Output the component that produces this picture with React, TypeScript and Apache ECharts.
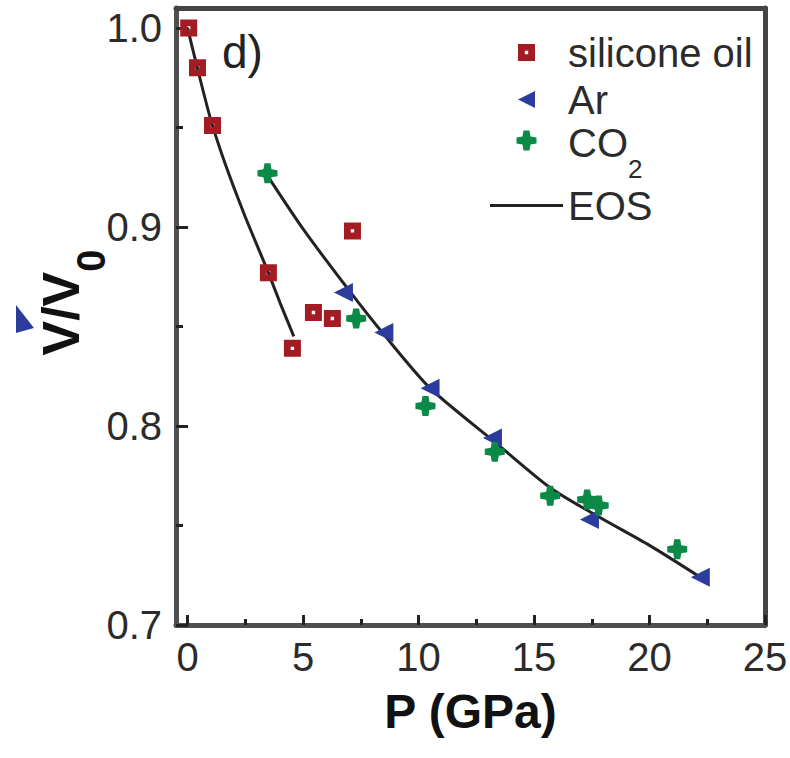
import React, { useEffect, useRef } from "react";
import * as echarts from "echarts";

const FONT = "'Liberation Sans', Arial, Helvetica, sans-serif";

// Data
const siliconeP = [0.05, 0.43, 1.08, 3.5, 4.54, 5.45, 6.27, 7.14];
const siliconeV = [1.0, 0.98, 0.951, 0.877, 0.839, 0.857, 0.854, 0.898];

const arP = [6.75, 8.5, 10.5, 13.2, 17.4, 22.2];
const arV = [0.867, 0.847, 0.819, 0.794, 0.753, 0.724];

const co2P = [3.46, 7.3, 10.3, 13.3, 15.7, 17.3, 17.8, 21.2];
const co2V = [0.927, 0.854, 0.81, 0.787, 0.765, 0.763, 0.76, 0.738];

const eos1P = [0, 0.4, 1.0, 1.5, 2.0, 2.5, 3.0, 3.5, 4.0, 4.6];
const eos1V = [1.0, 0.981, 0.954, 0.936, 0.92, 0.905, 0.891, 0.877, 0.862, 0.845];

const eos2P = [3.5, 5, 7, 8.5, 10.5, 13.4, 15.7, 17.7, 20, 22.2];
const eos2V = [0.925, 0.899, 0.868, 0.846, 0.819, 0.791, 0.769, 0.755, 0.74, 0.724];

const xTicks = [0, 5, 10, 15, 20, 25];
const xMinor = [2.5, 7.5, 12.5, 17.5, 22.5];
const yTicks = [0.7, 0.8, 0.9, 1.0];
const yMinor = [0.75, 0.85, 0.95];

const RED = "#a31c24";
const BLUE = "#2b3c9c";
const GREEN = "#0a8a46";
const AXIS = "#4f4f4f";
const TICK = "#222";
const TEXT = "#2b2b2b";

const SQUARE = "path://M0,0L10,0L10,10L0,10Z M4,4L4,6L6,6L6,4Z";
const LEFT_TRI = "path://M0,5L10,0L10,10Z";
const CROSS = "path://M3.5,0L6.5,0L7,3L10,3.5L10,6.5L7,7L6.5,10L3.5,10L3,7L0,6.5L0,3.5L3,3Z";
const LINE_ICON = "path://M0,0L73,0L73,3L0,3Z";

const zip = (a: number[], b: number[]) => a.map((v, i) => [v, b[i]]);

export default function App() {
  const ref = useRef<HTMLDivElement>(null);

  useEffect(() => {
    if (!ref.current) return;
    const chart = echarts.init(ref.current, null, { renderer: "svg" });

    const hiddenAxisBits = {
      axisLabel: { show: false },
      splitLine: { show: false },
    };

    const option: any = {
      animation: false,
      backgroundColor: "#fff",
      title: {
        text: "d)",
        left: 222,
        top: 29,
        padding: 0,
        textStyle: { fontSize: 46, fontWeight: "normal", color: "#222", fontFamily: FONT },
      },
      grid: {
        left: 176,
        right: 25,
        top: 8,
        bottom: 133,
        containLabel: false,
        outerBoundsMode: "none",
      },
      legend: [
        {
          data: ["silicone oil", "Ar"],
          orient: "vertical",
          left: 518,
          top: 29,
          padding: 0,
          itemGap: 0,
          itemWidth: 73,
          itemHeight: 17,
          selectedMode: false,
          textStyle: { fontSize: 40, lineHeight: 47, color: TEXT, fontFamily: FONT },
        },
        {
          data: [
            { name: "CO2", textStyle: { padding: [12, 0, 0, 0] } },
            { name: "EOS", icon: LINE_ICON, itemStyle: { color: "#222" } },
          ],
          orient: "vertical",
          left: 490,
          top: 111,
          padding: 0,
          itemGap: 0,
          itemWidth: 73,
          itemHeight: 20,
          selectedMode: false,
          formatter: (n: string) => (n === "CO2" ? "{a|CO}{b|2}" : n),
          textStyle: {
            fontSize: 40,
            lineHeight: 47,
            color: TEXT,
            fontFamily: FONT,
            rich: {
              a: { fontSize: 40, lineHeight: 47, verticalAlign: "top", color: TEXT, fontFamily: FONT },
              b: {
                fontSize: 26,
                lineHeight: 26,
                padding: [33, 0, 0, 0],
                verticalAlign: "top",
                color: TEXT,
                fontFamily: FONT,
              },
            },
          },
        },
      ],
      xAxis: [
        {
          type: "value",
          min: -0.5,
          max: 25,
          position: "bottom",
          name: "P (GPa)",
          nameLocation: "middle",
          nameGap: 62,
          nameTextStyle: { fontSize: 48, fontWeight: "bold", color: "#111", fontFamily: FONT },
          axisLine: { show: true, onZero: false, lineStyle: { color: AXIS, width: 5 } },
          axisTick: {
            show: true,
            inside: true,
            length: 10,
            customValues: xTicks,
            lineStyle: { color: TICK, width: 3 },
          },
          axisLabel: {
            customValues: xTicks,
            formatter: (v: number) => String(v),
            fontSize: 40,
            color: TEXT,
            fontFamily: FONT,
            margin: 12,
          },
          splitLine: { show: false },
        },
        {
          type: "value",
          min: -0.5,
          max: 25,
          position: "bottom",
          axisLine: { show: false, onZero: false },
          axisTick: {
            show: true,
            inside: true,
            length: 6,
            customValues: xMinor,
            lineStyle: { color: TICK, width: 3 },
          },
          ...hiddenAxisBits,
        },
        {
          type: "value",
          min: -0.5,
          max: 25,
          position: "top",
          axisLine: { show: true, onZero: false, lineStyle: { color: "#444", width: 5 } },
          axisTick: { show: false },
          ...hiddenAxisBits,
        },
      ],
      yAxis: [
        {
          type: "value",
          min: 0.7,
          max: 1.01,
          position: "left",
          name: "{a|V/V}{b|0}",
          nameLocation: "middle",
          nameGap: 85,
          nameMoveOverlap: false,
          nameTextStyle: {
            padding: [0, 0, 0, 28],
            rich: {
              a: {
                fontSize: 52,
                fontWeight: "bold",
                lineHeight: 56,
                verticalAlign: "top",
                color: "#111",
                fontFamily: FONT,
              },
              b: {
                fontSize: 40,
                fontWeight: "bold",
                lineHeight: 40,
                padding: [36, 0, 0, 0],
                verticalAlign: "top",
                color: "#111",
                fontFamily: FONT,
              },
            },
          },
          axisLine: { show: true, onZero: false, lineStyle: { color: AXIS, width: 5 } },
          axisTick: {
            show: true,
            inside: true,
            length: 12,
            customValues: yTicks,
            lineStyle: { color: TICK, width: 3 },
          },
          axisLabel: {
            customValues: yTicks,
            formatter: (v: number) => v.toFixed(1),
            fontSize: 40,
            color: TEXT,
            fontFamily: FONT,
            margin: 14,
          },
          splitLine: { show: false },
        },
        {
          type: "value",
          min: 0.7,
          max: 1.01,
          position: "left",
          axisLine: { show: false, onZero: false },
          axisTick: {
            show: true,
            inside: true,
            length: 7,
            customValues: yMinor,
            lineStyle: { color: TICK, width: 3 },
          },
          ...hiddenAxisBits,
        },
        {
          type: "value",
          min: 0.7,
          max: 1.01,
          position: "right",
          axisLine: { show: true, onZero: false, lineStyle: { color: "#444", width: 5 } },
          axisTick: { show: false },
          ...hiddenAxisBits,
        },
      ],
      graphic: [
        {
          type: "polygon",
          shape: { points: [[16, 305], [34, 328], [16, 333]] },
          style: { fill: BLUE },
        },
      ],
      series: [
        {
          name: "EOS",
          type: "line",
          data: zip(eos1P, eos1V),
          smooth: 0.25,
          symbol: "none",
          lineStyle: { color: "#222", width: 3 },
          itemStyle: { color: "#222" },
          z: 2,
        },
        {
          name: "EOS",
          type: "line",
          data: zip(eos2P, eos2V),
          smooth: 0.25,
          symbol: "none",
          lineStyle: { color: "#222", width: 3 },
          itemStyle: { color: "#222" },
          z: 2,
        },
        {
          name: "silicone oil",
          type: "scatter",
          data: zip(siliconeP, siliconeV),
          symbol: SQUARE,
          symbolSize: 17,
          itemStyle: { color: RED, opacity: 1 },
          z: 3,
        },
        {
          name: "Ar",
          type: "scatter",
          data: zip(arP, arV),
          symbol: LEFT_TRI,
          symbolSize: 19,
          itemStyle: { color: BLUE, opacity: 1 },
          z: 3,
        },
        {
          name: "CO2",
          type: "scatter",
          data: zip(co2P, co2V),
          symbol: CROSS,
          symbolSize: 20,
          itemStyle: { color: GREEN, opacity: 1 },
          z: 3,
        },
      ],
    };

    chart.setOption(option);
    return () => chart.dispose();
  }, []);

  return (
    <div
      ref={ref}
      style={{ position: "absolute", left: 0, top: 0, width: 790, height: 758, background: "#fff" }}
    />
  );
}
